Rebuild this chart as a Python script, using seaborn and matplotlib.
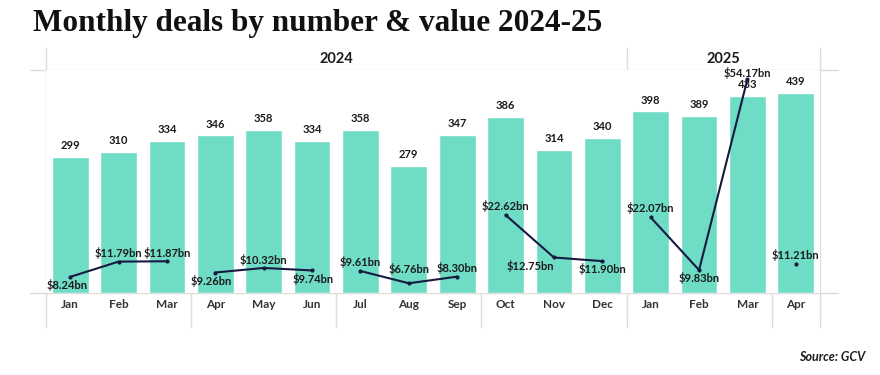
import matplotlib.pyplot as plt
import matplotlib.transforms as mtransforms
import pandas as pd
import seaborn as sns

# --- data ---
months = ["Jan", "Feb", "Mar", "Apr", "May", "Jun", "Jul", "Aug", "Sep",
          "Oct", "Nov", "Dec", "Jan", "Feb", "Mar", "Apr"]
years = ["2024"] * 12 + ["2025"] * 4
quarters = (["Q1-24"] * 3 + ["Q2-24"] * 3 + ["Q3-24"] * 3 + ["Q4-24"] * 3
            + ["Q1-25"] * 3 + ["Q2-25"])
deal_counts = [299, 310, 334, 346, 358, 334, 358, 279, 347,
               386, 314, 340, 398, 389, 433, 439]
deal_values = [8.24, 11.79, 11.87, 9.26, 10.32, 9.74, 9.61, 6.76, 8.30,
               22.62, 12.75, 11.90, 22.07, 9.83, 54.17, 11.21]

# label offsets (points) for the value annotations
value_label_offsets = [(-2, -6), (0, 6), (0, 6), (-3, -6), (0, 6), (1, -6),
                       (0, 6.5), (0, 10), (0, 6.5), (0, 6.5), (-17, -6), (0, -6),
                       (0, 6.5), (0, -6), (0, 4.5), (0, 6.5)]

BAR = "#6fdcc5"
LINE = "#161a40"
GRID = "#dcdcdc"
TEXT = "#1c1c1c"

sns.set_theme(style="white")
plt.rcParams["font.family"] = ["Lato", "DejaVu Sans"]

df = pd.DataFrame({"pos": range(len(months)), "month": months, "year": years,
                   "quarter": quarters, "count": deal_counts, "value": deal_values})

W, H = 880, 375
fig = plt.figure(figsize=(W / 100, H / 100), dpi=100)


def fx(px):
    return px / W


def fy(py):
    return 1 - py / H


ax = fig.add_axes([fx(46), fy(293), fx(820) - fx(46), fy(70) - fy(293)])
sns.barplot(data=df, x="pos", y="count", color=BAR, saturation=1, width=0.76, ax=ax)
ax.set_xlim(-0.5, len(months) - 0.5)
ax.set_ylim(0, 489)
ax.set_xticks(range(len(months)))
ax.set_xticklabels(months, fontsize=8.5, fontweight="bold", color="#333333")
ax.tick_params(axis="x", length=0, pad=4)
ax.set_yticks([])
ax.set_xlabel("")
ax.set_ylabel("")
for s in ax.spines.values():
    s.set_visible(False)
ax.bar_label(ax.containers[0], padding=4, fontsize=8, fontweight="bold", color=TEXT)

# value line on a secondary axis, broken by quarter
ax2 = ax.twinx()
for q, g in df.groupby("quarter", sort=False):
    sns.lineplot(data=g, x="pos", y="value", ax=ax2, color=LINE, linewidth=1.5,
                 marker="o", markersize=3, markeredgewidth=0)
ax2.set_ylim(4.5, 56.3)
ax2.set_xlim(-0.5, len(months) - 0.5)
ax2.set_yticks([])
ax2.set_xlabel("")
ax2.set_ylabel("")
for s in ax2.spines.values():
    s.set_visible(False)
for (p, v), (dx, dy) in zip(zip(df["pos"], df["value"]), value_label_offsets):
    ax2.annotate(f"${v:.2f}bn", (p, v), xytext=(dx, dy), textcoords="offset points",
                 ha="center", va="center", fontsize=8, fontweight="bold",
                 color=TEXT, annotation_clip=False)

# grid lines: header line, baseline, and year / quarter separators
for py in (70, 293):
    fig.add_artist(plt.Line2D([fx(30), fx(838)], [fy(py), fy(py)],
                              color=GRID, linewidth=1, zorder=0))
blend = mtransforms.blended_transform_factory(ax.transData, fig.transFigure)
n = len(months)
for i in range(n + 1):
    left_q = quarters[i - 1] if i > 0 else None
    right_q = quarters[i] if i < n else None
    left_y = years[i - 1] if i > 0 else None
    right_y = years[i] if i < n else None
    if left_y != right_y:
        top = fy(48)
    elif left_q != right_q:
        top = fy(70)
    else:
        continue
    fig.add_artist(plt.Line2D([i - 0.5, i - 0.5], [fy(327), top], transform=blend,
                              color=GRID, linewidth=1, zorder=0))

# year headers
for yr, g in df.groupby("year"):
    centre = (g["pos"].min() + g["pos"].max()) / 2
    ax.text(centre, fy(59), yr, transform=blend, ha="center", va="center",
            fontsize=10.5, fontweight="bold", color=TEXT)

fig.text(fx(33), fy(23), "Monthly deals by number & value 2024-25",
         family="Liberation Serif", fontweight="bold", fontsize=22.5,
         color="#111111", va="center", ha="left")
fig.text(fx(865), fy(357), "Source: GCV", ha="right", va="center",
         fontsize=9, fontweight="bold", style="italic", color=TEXT)

fig.savefig("out.png", dpi=100, facecolor="white")
